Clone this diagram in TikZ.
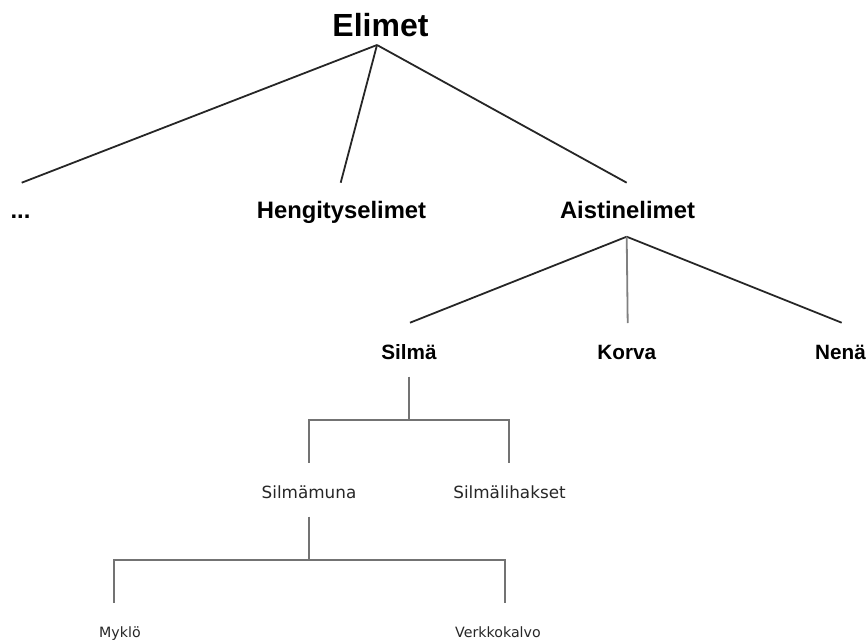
\documentclass[tikz,border=0pt]{standalone}
\usepackage{fontspec}
\setmainfont{Liberation Sans}
\newfontfamily\smallfam{DejaVu Sans}
\tikzset{
  big/.style={anchor=base, inner sep=0pt, font=\bfseries\fontsize{32}{36}\selectfont},
  lvl/.style={anchor=base, inner sep=0pt, font=\bfseries\fontsize{23.8}{28}\selectfont},
  lvlb/.style={anchor=base, inner sep=0pt, font=\bfseries\fontsize{20.7}{24}\selectfont},
  sm/.style={anchor=base, inner sep=0pt, text=black!85, font=\smallfam\fontsize{16.8}{20}\selectfont},
  tiny/.style={anchor=base, inner sep=0pt, text=black!85, font=\smallfam\fontsize{14.2}{16}\selectfont},
  topline/.style={draw=black!85, line width=1.8pt},
  brk/.style={draw=black!55, line width=2pt}
}
\begin{document}
\begin{tikzpicture}[x=1pt,y=-1pt]
\useasboundingbox (0,0) rectangle (868,641);
% texts
\node[big] (elimet) at (380.5,36.5) {Elimet};
\node[lvl] (dots) at (20.5,218.3) {...};
\node[lvl] (heng) at (341.5,218.3) {Hengityselimet};
\node[lvl] (aist) at (627.5,218.8) {Aistinelimet};
\node[lvlb] (silma) at (409,359.2) {Silmä};
\node[lvlb] (korva) at (626.8,359.2) {Korva};
\node[lvlb] (nena) at (840.5,359.2) {Nenä};
\node[sm] (muna) at (309,498) {Silmämuna};
\node[sm] (lihas) at (509.5,498) {Silmälihakset};
\node[tiny] (myklo) at (120,637.3) {Myklö};
\node[tiny] (verkko) at (498,637.3) {Verkkokalvo};
% junction points
\coordinate (eJ) at (377,45);
\coordinate (dT) at (21.7,182.7);
\coordinate (hT) at (340.7,182.7);
\coordinate (aT) at (626.7,182.7);
\coordinate (aJ) at (626.7,236.7);
\coordinate (sT) at (410,322.7);
\coordinate (kT) at (627.7,323);
\coordinate (nT) at (841.7,322.7);
\coordinate (sJ) at (409.3,376.7);
\coordinate (sM) at (409.3,420);
\coordinate (mT) at (309.3,463.3);
\coordinate (lT) at (509.3,463.3);
\coordinate (mJ) at (309,516.7);
\coordinate (mM) at (309,560);
\coordinate (yT) at (114,603.3);
\coordinate (vT) at (505,603.3);
% connectors
\draw[topline] (eJ) -- (dT);
\draw[topline] (eJ) -- (hT);
\draw[topline] (eJ) -- (aT);
\draw[topline] (aJ) -- (sT);
\draw[topline] (aJ) -- (nT);
\draw[topline, draw=black!50] (aJ) -- (kT);
\draw[brk] (sJ) -- (sM);
\draw[brk] (sM) -| (mT);
\draw[brk] (sM) -| (lT);
\draw[brk] (mJ) -- (mM);
\draw[brk] (mM) -| (yT);
\draw[brk] (mM) -| (vT);
\end{tikzpicture}
\end{document}
